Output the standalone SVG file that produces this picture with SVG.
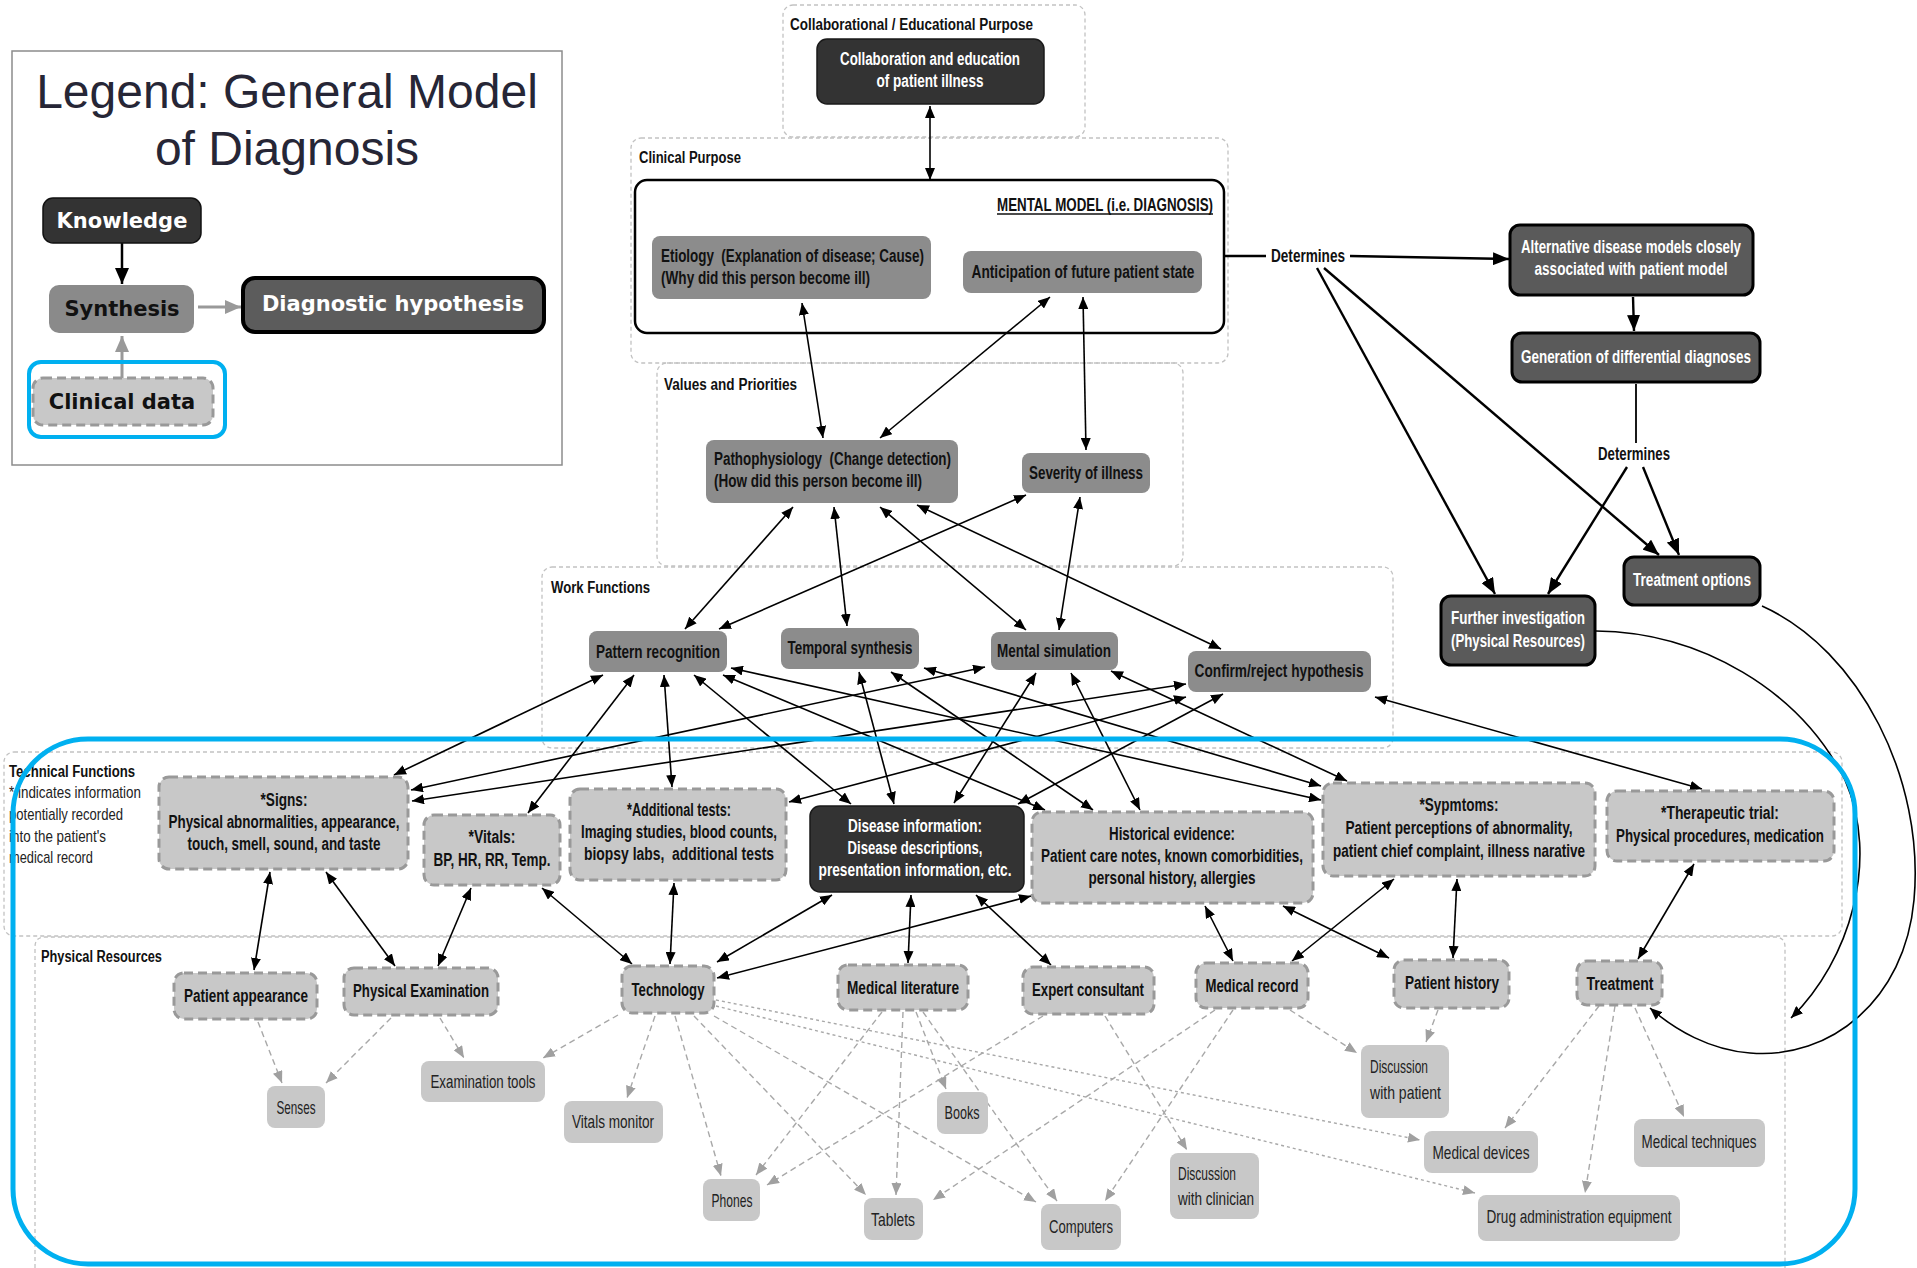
<svg xmlns="http://www.w3.org/2000/svg" width="1917" height="1268" viewBox="0 0 1917 1268">
<defs>
<style>
.grp{fill:none;stroke:#c2c2c2;stroke-width:1.3;stroke-dasharray:4 3}
.glab{font-family:"Liberation Sans",Arial,sans-serif;font-weight:bold;font-size:16px;fill:#111}
.ann{font-family:"Liberation Sans",Arial,sans-serif;font-size:17px;fill:#222}
.mid{fill:#8c8c8c}
.dark{fill:#5a5a5a;stroke:#000;stroke-width:3}
.blk{fill:#333;stroke:#1a1a1a;stroke-width:1.5}
.tech{fill:#c8c8c8;stroke:#999;stroke-width:3;stroke-dasharray:9 5}
.leaf{fill:#c8c8c8}
.t{font-family:"Liberation Sans",Arial,sans-serif;font-weight:bold;font-size:18px;fill:#111}
.tw{fill:#fff}
.tl{font-family:"Liberation Sans",Arial,sans-serif;font-size:19px;fill:#222}
.lg{font-family:"DejaVu Sans",Verdana,sans-serif;font-weight:bold;font-size:21px}
.c{stroke:#000;stroke-width:1.6;fill:none;marker-start:url(#a);marker-end:url(#a)}
.s{stroke:#000;stroke-width:1.6;fill:none;marker-end:url(#a)}
.d{stroke:#000;stroke-width:2.4;fill:none;marker-end:url(#b)}
.g{stroke:#a8a8a8;stroke-width:1.4;stroke-dasharray:6 4;fill:none;marker-end:url(#ga)}
.gd{stroke:#a8a8a8;stroke-width:1.4;stroke-dasharray:3 3;fill:none;marker-end:url(#ga)}
</style>
<marker id="a" viewBox="0 0 12 10" refX="12" refY="5" markerWidth="12" markerHeight="10" markerUnits="userSpaceOnUse" orient="auto-start-reverse"><path d="M0,0 L12,5 L0,10 z" fill="#000"/></marker>
<marker id="b" viewBox="0 0 16 13" refX="16" refY="6.5" markerWidth="16" markerHeight="13" markerUnits="userSpaceOnUse" orient="auto"><path d="M0,0 L16,6.5 L0,13 z" fill="#000"/></marker>
<marker id="ga" viewBox="0 0 12 10" refX="12" refY="5" markerWidth="12" markerHeight="10" markerUnits="userSpaceOnUse" orient="auto"><path d="M0,0 L12,5 L0,10 z" fill="#a0a0a0"/></marker>
<marker id="lgk" viewBox="0 0 16 14" refX="16" refY="7" markerWidth="16" markerHeight="14" markerUnits="userSpaceOnUse" orient="auto"><path d="M0,0 L16,7 L0,14 z" fill="#000"/></marker>
<marker id="lgg" viewBox="0 0 16 14" refX="16" refY="7" markerWidth="16" markerHeight="14" markerUnits="userSpaceOnUse" orient="auto"><path d="M0,0 L16,7 L0,14 z" fill="#999"/></marker>
</defs>
<rect width="1917" height="1268" fill="#fff"/>

<!-- Legend -->
<g id="legend">
<rect x="12" y="51" width="550" height="414" fill="#fff" stroke="#8c8c8c" stroke-width="1.5"/>
<text x="287" y="108" text-anchor="middle" font-family="Liberation Sans, Arial, sans-serif" font-size="48" fill="#262636">Legend: General Model</text>
<text x="287" y="165" text-anchor="middle" font-family="Liberation Sans, Arial, sans-serif" font-size="48" fill="#262636">of Diagnosis</text>
<line x1="122" y1="243" x2="122" y2="284" stroke="#000" stroke-width="2.5" marker-end="url(#lgk)"/>
<line x1="198" y1="307" x2="241" y2="307" stroke="#999" stroke-width="3" marker-end="url(#lgg)"/>
<line x1="122" y1="380" x2="122" y2="336" stroke="#999" stroke-width="3" marker-end="url(#lgg)"/>
<g id="lg-knowledge"><rect x="43" y="198" width="158" height="45" rx="10" fill="#333" stroke="#111" stroke-width="1.5"/><text class="lg" x="122" y="228" text-anchor="middle" fill="#fff">Knowledge</text></g>
<g id="lg-synthesis"><rect x="49" y="285" width="145" height="48" rx="10" fill="#8a8a8a"/><text class="lg" x="122" y="316" text-anchor="middle" fill="#111">Synthesis</text></g>
<g id="lg-diag"><rect x="243" y="278" width="301" height="54" rx="12" fill="#5c5c5c" stroke="#000" stroke-width="4"/><text class="lg" x="393" y="311" text-anchor="middle" fill="#fff">Diagnostic hypothesis</text></g>
<g id="lg-clinical"><rect x="33" y="378" width="180" height="47" rx="10" fill="#c8c8c8" stroke="#999" stroke-width="3" stroke-dasharray="9 5"/><text class="lg" x="122" y="409" text-anchor="middle" fill="#111">Clinical data</text></g>
<rect x="29" y="362" width="196" height="75" rx="12" fill="none" stroke="#00b0f0" stroke-width="4"/>
</g>

<!-- Containers -->
<g id="containers">
<rect class="grp" x="783" y="5" width="302" height="132" rx="10"/>
<text class="glab" x="790" y="30" textLength="243" lengthAdjust="spacingAndGlyphs">Collaborational / Educational Purpose</text>
<rect class="grp" x="631" y="138" width="597" height="225" rx="10"/>
<text class="glab" x="639" y="163" textLength="102" lengthAdjust="spacingAndGlyphs">Clinical Purpose</text>
<rect class="grp" x="657" y="363" width="526" height="203" rx="10"/>
<text class="glab" x="664" y="390" textLength="133" lengthAdjust="spacingAndGlyphs">Values and Priorities</text>
<rect class="grp" x="542" y="567" width="851" height="181" rx="10"/>
<text class="glab" x="551" y="593" textLength="99" lengthAdjust="spacingAndGlyphs">Work Functions</text>
<rect class="grp" x="4" y="752" width="1838" height="184" rx="10"/>
<text class="glab" x="9" y="777" textLength="126" lengthAdjust="spacingAndGlyphs">Technical Functions</text>
<text class="ann" x="9" y="798" textLength="132" lengthAdjust="spacingAndGlyphs">* indicates information</text>
<text class="ann" x="9" y="820" textLength="114" lengthAdjust="spacingAndGlyphs">potentially recorded</text>
<text class="ann" x="9" y="842" textLength="97" lengthAdjust="spacingAndGlyphs">into the patient's</text>
<text class="ann" x="9" y="863" textLength="84" lengthAdjust="spacingAndGlyphs">medical record</text>
<path class="grp" d="M35,1268 V947 Q35,937 45,937 H1775 Q1785,937 1785,947 V1268"/>
<text class="glab" x="41" y="962" textLength="121" lengthAdjust="spacingAndGlyphs">Physical Resources</text>
</g>

<!-- Mental model frame (drawn under connectors) -->
<g id="mental-model"><rect x="635" y="180" width="589" height="153" rx="12" fill="none" stroke="#000" stroke-width="2.5"/><text class="t" x="1213" y="211" text-anchor="end" textLength="216" lengthAdjust="spacingAndGlyphs">MENTAL MODEL (i.e. DIAGNOSIS)</text><line x1="997" y1="214" x2="1213" y2="214" stroke="#111" stroke-width="1.3"/></g>

<!-- Connectors -->
<g id="connectors">
<line class="c" x1="930" y1="106" x2="930" y2="180"/>
<line class="c" x1="802" y1="303" x2="823" y2="438"/>
<line class="c" x1="1050" y1="297" x2="880" y2="438"/>
<line class="c" x1="1083" y1="297" x2="1086" y2="450"/>
<line x1="1224" y1="256" x2="1266" y2="256" stroke="#000" stroke-width="2.4"/>
<line class="d" x1="1350" y1="256" x2="1509" y2="259"/>
<line class="d" x1="1317" y1="268" x2="1495" y2="594"/>
<line class="d" x1="1324" y1="268" x2="1659" y2="555"/>
<line class="d" x1="1633" y1="297" x2="1634" y2="331"/>
<line x1="1636" y1="384" x2="1636" y2="443" stroke="#000" stroke-width="1.8"/>
<line class="d" x1="1627" y1="467" x2="1548" y2="594"/>
<line class="d" x1="1643" y1="467" x2="1679" y2="555"/>
<path class="s" stroke-width="1.3" d="M1596,631 C1700,632 1800,690 1845,780 C1880,860 1850,960 1791,1018"/>
<path class="s" stroke-width="1.3" d="M1762,606 C1860,650 1925,780 1914,900 C1905,1000 1830,1060 1750,1053 C1710,1050 1675,1030 1650,1008"/>

<line class="c" x1="793" y1="507" x2="685" y2="629"/>
<line class="c" x1="1026" y1="495" x2="719" y2="629"/>
<line class="c" x1="834" y1="507" x2="847" y2="626"/>
<line class="c" x1="880" y1="507" x2="1026" y2="630"/>
<line class="c" x1="1080" y1="497" x2="1059" y2="630"/>
<line class="c" x1="917" y1="505" x2="1221" y2="649"/>

<line class="c" x1="603" y1="675" x2="394" y2="775"/>
<line class="c" x1="634" y1="675" x2="528" y2="813"/>
<line class="c" x1="664" y1="675" x2="672" y2="787"/>
<line class="c" x1="694" y1="675" x2="851" y2="804"/>
<line class="c" x1="723" y1="675" x2="1045" y2="810"/>
<line class="c" x1="731" y1="668" x2="1321" y2="800"/>
<line class="c" x1="411" y1="790" x2="985" y2="667"/>
<line class="c" x1="412" y1="801" x2="1186" y2="684"/>
<line class="c" x1="789" y1="802" x2="1186" y2="697"/>
<line class="c" x1="859" y1="672" x2="894" y2="804"/>
<line class="c" x1="891" y1="672" x2="1093" y2="810"/>
<line class="c" x1="924" y1="668" x2="1321" y2="786"/>
<line class="c" x1="1036" y1="673" x2="954" y2="803"/>
<line class="c" x1="1071" y1="673" x2="1140" y2="810"/>
<line class="c" x1="1111" y1="671" x2="1347" y2="781"/>
<line class="c" x1="1223" y1="694" x2="1018" y2="804"/>
<line class="c" x1="1375" y1="697" x2="1702" y2="789"/>

<line class="c" x1="270" y1="872" x2="254" y2="970"/>
<line class="c" x1="326" y1="872" x2="395" y2="966"/>
<line class="c" x1="471" y1="888" x2="438" y2="966"/>
<line class="c" x1="542" y1="888" x2="632" y2="964"/>
<line class="c" x1="674" y1="883" x2="670" y2="964"/>
<line class="c" x1="832" y1="895" x2="717" y2="962"/>
<line class="c" x1="1031" y1="896" x2="717" y2="978" stroke-width="2.2"/>
<line class="c" x1="911" y1="895" x2="908" y2="963"/>
<line class="c" x1="976" y1="895" x2="1051" y2="965"/>
<line class="c" x1="1205" y1="906" x2="1233" y2="961"/>
<line class="c" x1="1394" y1="879" x2="1292" y2="961"/>
<line class="c" x1="1283" y1="906" x2="1389" y2="958"/>
<line class="c" x1="1457" y1="879" x2="1453" y2="958"/>
<line class="c" x1="1694" y1="864" x2="1638" y2="959"/>

<line class="g" x1="258" y1="1022" x2="282" y2="1083"/>
<line class="g" x1="391" y1="1018" x2="326" y2="1083"/>
<line class="g" x1="440" y1="1018" x2="464" y2="1058"/>
<line class="g" x1="618" y1="1015" x2="543" y2="1058"/>
<line class="g" x1="655" y1="1016" x2="627" y2="1098"/>
<line class="g" x1="675" y1="1016" x2="721" y2="1176"/>
<line class="g" x1="694" y1="1016" x2="866" y2="1195"/>
<line class="g" x1="714" y1="1016" x2="1036" y2="1202"/>
<line class="gd" x1="716" y1="1000" x2="1420" y2="1140"/>
<line class="gd" x1="716" y1="1006" x2="1475" y2="1193"/>
<line class="g" x1="882" y1="1012" x2="756" y2="1175"/>
<line class="g" x1="903" y1="1012" x2="896" y2="1195"/>
<line class="g" x1="916" y1="1012" x2="946" y2="1089"/>
<line class="g" x1="923" y1="1012" x2="1057" y2="1201"/>
<line class="g" x1="1043" y1="1016" x2="767" y2="1185"/>
<line class="g" x1="1105" y1="1016" x2="1187" y2="1150"/>
<line class="g" x1="1215" y1="1010" x2="933" y2="1200"/>
<line class="g" x1="1233" y1="1010" x2="1105" y2="1201"/>
<line class="g" x1="1290" y1="1010" x2="1357" y2="1053"/>
<line class="g" x1="1438" y1="1010" x2="1426" y2="1042"/>
<line class="g" x1="1599" y1="1006" x2="1505" y2="1128"/>
<line class="g" x1="1615" y1="1006" x2="1585" y2="1193"/>
<line class="g" x1="1635" y1="1008" x2="1684" y2="1117"/>
</g>

<!-- Upper nodes -->
<g id="collab"><rect class="blk" x="817" y="39" width="227" height="65" rx="10"/><text class="t tw" x="930" y="65" text-anchor="middle" textLength="180" lengthAdjust="spacingAndGlyphs">Collaboration and education</text><text class="t tw" x="930" y="87" text-anchor="middle" textLength="107" lengthAdjust="spacingAndGlyphs">of patient illness</text></g>
<g id="etiology"><rect class="mid" x="652" y="236" width="279" height="63" rx="8"/><text class="t" x="661" y="262" textLength="263" lengthAdjust="spacingAndGlyphs" xml:space="preserve">Etiology  (Explanation of disease; Cause)</text><text class="t" x="661" y="284" textLength="209" lengthAdjust="spacingAndGlyphs">(Why did this person become ill)</text></g>
<g id="anticipation"><rect class="mid" x="963" y="251" width="239" height="42" rx="8"/><text class="t" x="1083" y="278" text-anchor="middle" textLength="223" lengthAdjust="spacingAndGlyphs">Anticipation of future patient state</text></g>
<g id="alternative"><rect class="dark" x="1510" y="225" width="243" height="70" rx="10"/><text class="t tw" x="1631" y="253" text-anchor="middle" textLength="220" lengthAdjust="spacingAndGlyphs">Alternative disease models closely</text><text class="t tw" x="1631" y="275" text-anchor="middle" textLength="193" lengthAdjust="spacingAndGlyphs">associated with patient model</text></g>
<g id="generation"><rect class="dark" x="1512" y="333" width="248" height="49" rx="10"/><text class="t tw" x="1636" y="363" text-anchor="middle" textLength="230" lengthAdjust="spacingAndGlyphs">Generation of differential diagnoses</text></g>
<g id="determines1"><text class="t" x="1308" y="262" text-anchor="middle" textLength="74" lengthAdjust="spacingAndGlyphs">Determines</text></g>
<g id="determines2"><text class="t" x="1634" y="460" text-anchor="middle" textLength="72" lengthAdjust="spacingAndGlyphs">Determines</text></g>
<g id="treatment-options"><rect class="dark" x="1624" y="557" width="136" height="48" rx="10"/><text class="t tw" x="1692" y="586" text-anchor="middle" textLength="118" lengthAdjust="spacingAndGlyphs">Treatment options</text></g>
<g id="further"><rect class="dark" x="1441" y="596" width="154" height="69" rx="10"/><text class="t tw" x="1518" y="624" text-anchor="middle" textLength="134" lengthAdjust="spacingAndGlyphs">Further investigation</text><text class="t tw" x="1518" y="647" text-anchor="middle" textLength="134" lengthAdjust="spacingAndGlyphs">(Physical Resources)</text></g>
<g id="pathophysiology"><rect class="mid" x="706" y="440" width="252" height="63" rx="8"/><text class="t" x="714" y="465" textLength="237" lengthAdjust="spacingAndGlyphs" xml:space="preserve">Pathophysiology  (Change detection)</text><text class="t" x="714" y="487" textLength="208" lengthAdjust="spacingAndGlyphs">(How did this person become ill)</text></g>
<g id="severity"><rect class="mid" x="1022" y="453" width="128" height="40" rx="8"/><text class="t" x="1086" y="479" text-anchor="middle" textLength="114" lengthAdjust="spacingAndGlyphs">Severity of illness</text></g>
<g id="pattern"><rect class="mid" x="589" y="631" width="138" height="41" rx="8"/><text class="t" x="658" y="658" text-anchor="middle" textLength="124" lengthAdjust="spacingAndGlyphs">Pattern recognition</text></g>
<g id="temporal"><rect class="mid" x="781" y="628" width="138" height="41" rx="8"/><text class="t" x="850" y="654" text-anchor="middle" textLength="125" lengthAdjust="spacingAndGlyphs">Temporal synthesis</text></g>
<g id="mental-sim"><rect class="mid" x="991" y="632" width="127" height="38" rx="8"/><text class="t" x="1054" y="657" text-anchor="middle" textLength="114" lengthAdjust="spacingAndGlyphs">Mental simulation</text></g>
<g id="confirm"><rect class="mid" x="1188" y="651" width="183" height="41" rx="8"/><text class="t" x="1279" y="677" text-anchor="middle" textLength="169" lengthAdjust="spacingAndGlyphs">Confirm/reject hypothesis</text></g>

<!-- Technical functions -->
<g id="signs"><rect class="tech" x="159" y="777" width="249" height="92" rx="10"/><text class="t" x="284" y="806" text-anchor="middle" textLength="47" lengthAdjust="spacingAndGlyphs">*Signs:</text><text class="t" x="284" y="828" text-anchor="middle" textLength="231" lengthAdjust="spacingAndGlyphs">Physical abnormalities, appearance,</text><text class="t" x="284" y="850" text-anchor="middle" textLength="193" lengthAdjust="spacingAndGlyphs">touch, smell, sound, and taste</text></g>
<g id="vitals"><rect class="tech" x="424" y="815" width="136" height="70" rx="10"/><text class="t" x="492" y="843" text-anchor="middle" textLength="47" lengthAdjust="spacingAndGlyphs">*Vitals:</text><text class="t" x="492" y="866" text-anchor="middle" textLength="117" lengthAdjust="spacingAndGlyphs">BP, HR, RR, Temp.</text></g>
<g id="additional"><rect class="tech" x="570" y="789" width="216" height="91" rx="10"/><text class="t" x="679" y="816" text-anchor="middle" textLength="104" lengthAdjust="spacingAndGlyphs">*Additional tests:</text><text class="t" x="679" y="838" text-anchor="middle" textLength="196" lengthAdjust="spacingAndGlyphs">Imaging studies, blood counts,</text><text class="t" x="679" y="860" text-anchor="middle" textLength="190" lengthAdjust="spacingAndGlyphs" xml:space="preserve">biopsy labs,  additional tests</text></g>
<g id="disease"><rect class="blk" x="810" y="806" width="214" height="86" rx="10"/><text class="t tw" x="915" y="832" text-anchor="middle" textLength="134" lengthAdjust="spacingAndGlyphs">Disease information:</text><text class="t tw" x="915" y="854" text-anchor="middle" textLength="135" lengthAdjust="spacingAndGlyphs">Disease descriptions,</text><text class="t tw" x="915" y="876" text-anchor="middle" textLength="193" lengthAdjust="spacingAndGlyphs">presentation information, etc.</text></g>
<g id="historical"><rect class="tech" x="1032" y="812" width="281" height="91" rx="10"/><text class="t" x="1172" y="840" text-anchor="middle" textLength="126" lengthAdjust="spacingAndGlyphs">Historical evidence:</text><text class="t" x="1172" y="862" text-anchor="middle" textLength="262" lengthAdjust="spacingAndGlyphs">Patient care notes, known comorbidities,</text><text class="t" x="1172" y="884" text-anchor="middle" textLength="167" lengthAdjust="spacingAndGlyphs">personal history, allergies</text></g>
<g id="symptoms"><rect class="tech" x="1323" y="783" width="272" height="93" rx="10"/><text class="t" x="1459" y="811" text-anchor="middle" textLength="79" lengthAdjust="spacingAndGlyphs">*Sypmtoms:</text><text class="t" x="1459" y="834" text-anchor="middle" textLength="227" lengthAdjust="spacingAndGlyphs">Patient perceptions of abnormality,</text><text class="t" x="1459" y="857" text-anchor="middle" textLength="252" lengthAdjust="spacingAndGlyphs">patient chief complaint, illness narative</text></g>
<g id="therapeutic"><rect class="tech" x="1607" y="791" width="227" height="70" rx="10"/><text class="t" x="1720" y="819" text-anchor="middle" textLength="118" lengthAdjust="spacingAndGlyphs">*Therapeutic trial:</text><text class="t" x="1720" y="842" text-anchor="middle" textLength="208" lengthAdjust="spacingAndGlyphs">Physical procedures, medication</text></g>

<!-- Physical resources -->
<g id="patient-appearance"><rect class="tech" x="174" y="973" width="143" height="46" rx="10"/><text class="t" x="246" y="1002" text-anchor="middle" textLength="124" lengthAdjust="spacingAndGlyphs">Patient appearance</text></g>
<g id="physical-exam"><rect class="tech" x="344" y="968" width="154" height="47" rx="10"/><text class="t" x="421" y="997" text-anchor="middle" textLength="136" lengthAdjust="spacingAndGlyphs">Physical Examination</text></g>
<g id="technology"><rect class="tech" x="622" y="966" width="92" height="47" rx="10"/><text class="t" x="668" y="996" text-anchor="middle" textLength="73" lengthAdjust="spacingAndGlyphs">Technology</text></g>
<g id="med-lit"><rect class="tech" x="838" y="965" width="130" height="45" rx="10"/><text class="t" x="903" y="994" text-anchor="middle" textLength="112" lengthAdjust="spacingAndGlyphs">Medical literature</text></g>
<g id="expert"><rect class="tech" x="1023" y="967" width="131" height="47" rx="10"/><text class="t" x="1088" y="996" text-anchor="middle" textLength="112" lengthAdjust="spacingAndGlyphs">Expert consultant</text></g>
<g id="med-record"><rect class="tech" x="1196" y="963" width="112" height="45" rx="10"/><text class="t" x="1252" y="992" text-anchor="middle" textLength="93" lengthAdjust="spacingAndGlyphs">Medical record</text></g>
<g id="patient-history"><rect class="tech" x="1394" y="960" width="115" height="48" rx="10"/><text class="t" x="1452" y="989" text-anchor="middle" textLength="94" lengthAdjust="spacingAndGlyphs">Patient history</text></g>
<g id="treatment"><rect class="tech" x="1577" y="961" width="85" height="44" rx="10"/><text class="t" x="1620" y="990" text-anchor="middle" textLength="67" lengthAdjust="spacingAndGlyphs">Treatment</text></g>

<!-- Leaves -->
<g id="senses"><rect class="leaf" x="267" y="1086" width="58" height="42" rx="8"/><text class="tl" x="296" y="1114" text-anchor="middle" textLength="39" lengthAdjust="spacingAndGlyphs">Senses</text></g>
<g id="exam-tools"><rect class="leaf" x="421" y="1061" width="124" height="41" rx="8"/><text class="tl" x="483" y="1088" text-anchor="middle" textLength="105" lengthAdjust="spacingAndGlyphs">Examination tools</text></g>
<g id="vitals-monitor"><rect class="leaf" x="564" y="1101" width="99" height="42" rx="8"/><text class="tl" x="613" y="1128" text-anchor="middle" textLength="82" lengthAdjust="spacingAndGlyphs">Vitals monitor</text></g>
<g id="phones"><rect class="leaf" x="703" y="1179" width="57" height="42" rx="8"/><text class="tl" x="732" y="1207" text-anchor="middle" textLength="41" lengthAdjust="spacingAndGlyphs">Phones</text></g>
<g id="tablets"><rect class="leaf" x="864" y="1198" width="59" height="42" rx="8"/><text class="tl" x="893" y="1226" text-anchor="middle" textLength="44" lengthAdjust="spacingAndGlyphs">Tablets</text></g>
<g id="computers"><rect class="leaf" x="1041" y="1204" width="80" height="46" rx="8"/><text class="tl" x="1081" y="1233" text-anchor="middle" textLength="64" lengthAdjust="spacingAndGlyphs">Computers</text></g>
<g id="books"><rect class="leaf" x="937" y="1092" width="51" height="42" rx="8"/><text class="tl" x="962" y="1119" text-anchor="middle" textLength="35" lengthAdjust="spacingAndGlyphs">Books</text></g>
<g id="disc-clinician"><rect class="leaf" x="1170" y="1153" width="89" height="66" rx="8"/><text class="tl" x="1178" y="1180" textLength="58" lengthAdjust="spacingAndGlyphs">Discussion</text><text class="tl" x="1178" y="1205" textLength="76" lengthAdjust="spacingAndGlyphs">with clinician</text></g>
<g id="disc-patient"><rect class="leaf" x="1361" y="1045" width="88" height="73" rx="8"/><text class="tl" x="1370" y="1073" textLength="58" lengthAdjust="spacingAndGlyphs">Discussion</text><text class="tl" x="1370" y="1099" textLength="71" lengthAdjust="spacingAndGlyphs">with patient</text></g>
<g id="med-devices"><rect class="leaf" x="1424" y="1131" width="114" height="42" rx="8"/><text class="tl" x="1481" y="1159" text-anchor="middle" textLength="97" lengthAdjust="spacingAndGlyphs">Medical devices</text></g>
<g id="med-techniques"><rect class="leaf" x="1634" y="1119" width="131" height="48" rx="8"/><text class="tl" x="1699" y="1148" text-anchor="middle" textLength="115" lengthAdjust="spacingAndGlyphs">Medical techniques</text></g>
<g id="drug-admin"><rect class="leaf" x="1478" y="1195" width="202" height="46" rx="8"/><text class="tl" x="1579" y="1223" text-anchor="middle" textLength="185" lengthAdjust="spacingAndGlyphs">Drug administration equipment</text></g>

<!-- Clinical data highlight -->
<rect id="highlight" x="13" y="739" width="1842" height="525" rx="75" fill="none" stroke="#00b0f0" stroke-width="5"/>
</svg>
